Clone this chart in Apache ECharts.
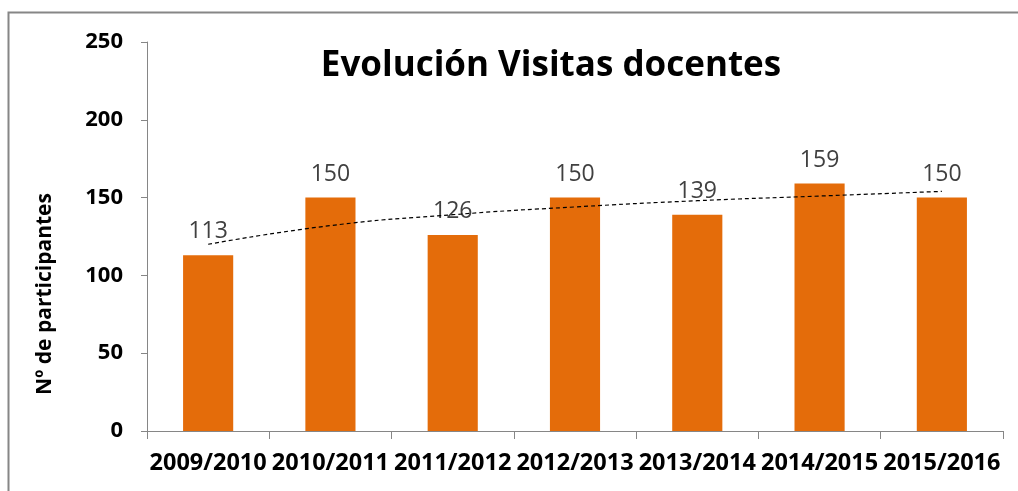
<!DOCTYPE html>
<html>
<head>
<meta charset="utf-8">
<script src="https://cdn.jsdelivr.net/npm/echarts@6/dist/echarts.min.js"></script>
<style>
  html, body { margin: 0; padding: 0; background: #fff; }
  #chart { width: 1018px; height: 491px; }
</style>
</head>
<body>
<div id="chart"></div>
<script>
var cursos = ['2009/2010', '2010/2011', '2011/2012', '2012/2013', '2013/2014', '2014/2015', '2015/2016'];
var participantes = [113, 150, 126, 150, 139, 159, 150];
// linea de tendencia (logaritmica)
var tendencia = [120, 132, 139, 144, 148, 151, 154];
var yTicks = [0, 50, 100, 150, 200, 250];

var dom = document.getElementById('chart');
var myChart = echarts.init(dom, null, { renderer: 'canvas' });

var fuente = 'Open Sans';

var option = {
  animation: false,
  title: {
    text: 'Evolución Visitas docentes',
    left: 546,
    top: 44,
    textAlign: 'center',
    textStyle: { fontFamily: fuente, fontWeight: 'bold', fontSize: 35, color: '#000' }
  },
  graphic: [
    {
      type: 'rect',
      shape: { x: 8.5, y: 12.5, width: 1040, height: 520 },
      style: { fill: 'none', stroke: '#868686', lineWidth: 2 },
      silent: true
    },
    {
      type: 'text',
      x: 45,
      y: 294,
      rotation: Math.PI / 2,
      style: {
        text: 'Nº de participantes',
        fontFamily: fuente, fontWeight: 'bold', fontSize: 21, fill: '#000',
        align: 'center', verticalAlign: 'middle'
      }
    }
  ],
  grid: { left: 147, right: 15, top: 42, bottom: 60 },
  xAxis: {
    type: 'category',
    data: cursos,
    axisLine: { lineStyle: { color: '#868686', width: 1 } },
    axisTick: { show: true, length: 8, alignWithLabel: false, lineStyle: { color: '#868686' } },
    axisLabel: { interval: 0, margin: 20, fontFamily: fuente, fontWeight: 'bold', fontSize: 23.5, color: '#000' }
  },
  yAxis: {
    type: 'value',
    min: yTicks[0],
    max: yTicks[yTicks.length - 1],
    interval: 50,
    splitLine: { show: false },
    axisLine: { show: true, lineStyle: { color: '#868686', width: 1 } },
    axisTick: { show: true, length: 6, lineStyle: { color: '#868686' } },
    axisLabel: { margin: 24, fontFamily: fuente, fontWeight: 'bold', fontSize: 22, color: '#000' }
  },
  series: [
    {
      type: 'bar',
      data: participantes,
      barWidth: '41%',
      itemStyle: { color: '#E46C0A' },
      label: {
        show: true,
        position: 'top',
        distance: 12,
        fontFamily: fuente, fontSize: 23, color: '#404040'
      }
    },
    {
      type: 'line',
      data: tendencia,
      smooth: true,
      symbol: 'none',
      z: 5,
      lineStyle: { color: '#000', width: 1.2, type: [4, 3] }
    }
  ]
};

myChart.setOption(option);
window.addEventListener('resize', myChart.resize);
</script>
</body>
</html>
